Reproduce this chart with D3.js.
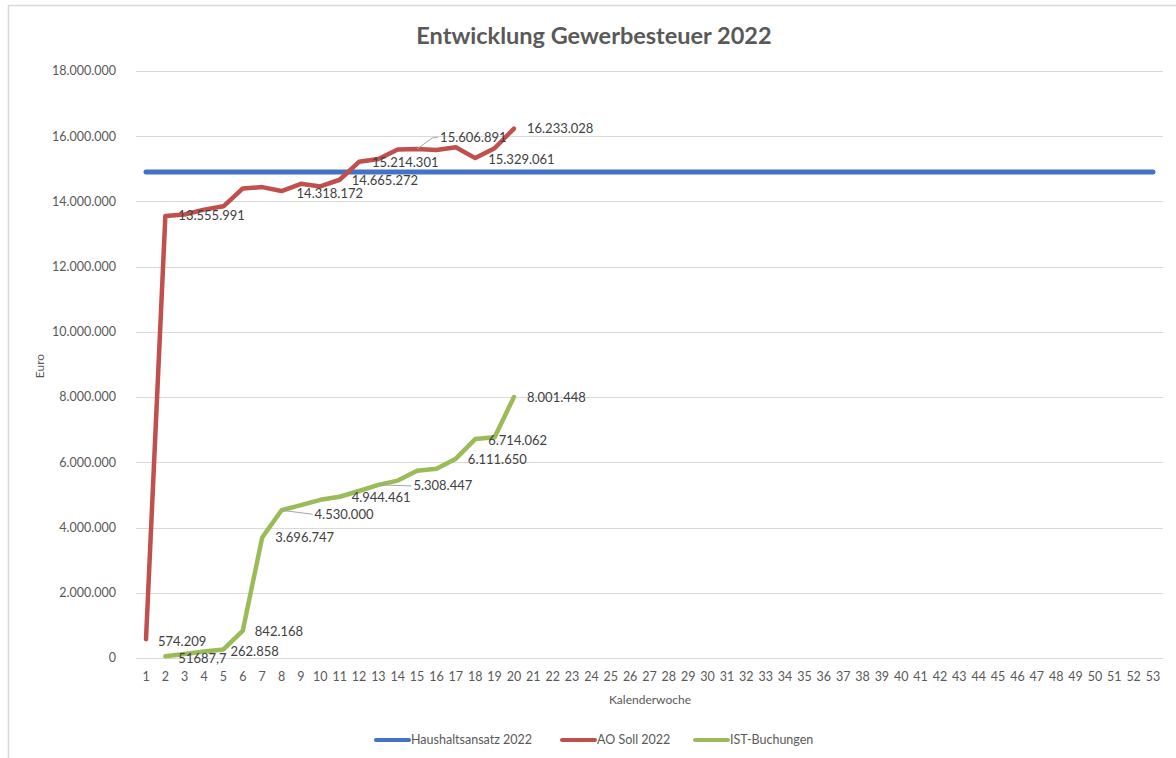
<!DOCTYPE html>
<html>
<head>
<meta charset="utf-8">
<script src="https://cdn.jsdelivr.net/npm/d3@7"></script>
<style>
  body { margin: 0; background: #fff; }
  svg text { font-family: Lato, "Open Sans", sans-serif; }
</style>
</head>
<body>
<svg id="chart-svg"></svg>
<script>
const width = 1176
const height = 758

// Kalenderwochen 1..53
const weeks = d3.range(1, 54)
const yTicks = [0, 2000000, 4000000, 6000000, 8000000, 10000000, 12000000, 14000000, 16000000, 18000000]

// Haushaltsansatz 2022 (konstant)
const budget = 14900000

// AO Soll 2022, KW 1..20
const soll = [574209, 13555991, 13600000, 13750000, 13850000, 14400000, 14440000, 14318172, 14540000, 14460000,
  14665272, 15214301, 15300000, 15590000, 15606891, 15580000, 15660000, 15329061, 15630000, 16233028]

// IST-Buchungen, KW 1..20 (KW 1 ohne Wert)
const ist = [null, 51687.7, 120000, 200000, 262858, 842168, 3696747, 4530000, 4690000, 4850000,
  4944461, 5120000, 5308447, 5440000, 5740000, 5800000, 6111650, 6714062, 6770000, 8001448]

const series = ['Haushaltsansatz 2022', 'AO Soll 2022', 'IST-Buchungen']
const colors = ['#4472C4', '#C0504D', '#9BBB59']

// beschriftete Wochen
const sollLabelWeeks = [1, 2, 8, 11, 12, 15, 18, 20]
const istLabelWeeks = [2, 5, 6, 7, 8, 11, 13, 17, 18, 20]

const de = d3.formatLocale({decimal: ',', thousands: '.', grouping: [3], currency: ['', ' €']})
const fmt = de.format(',d')
const labelText = (v) => Number.isInteger(v) ? fmt(v) : String(v).replace('.', ',')

// label offsets (dx, dy, leader) per series, same order as the label weeks
const sollLabelPos = [[12, 2], [13, 0], [15, 2], [12, 1], [13, 1], [23, -12, true], [13, 1], [13, 0]]
const istLabelPos = [[13, 2], [7, 2], [12, 1], [13, 0], [33, 4, true], [12, 1], [35, 1, true], [12, 1], [13, 1], [13, 0]]

const svg = d3.select('svg#chart-svg').attr('width', width).attr('height', height)

// chart area border (top + left visible)
svg.append('path')
  .attr('d', 'M8.5,758 V5.5 H1176')
  .attr('fill', 'none')
  .attr('stroke', '#d9d9d9')
  .attr('stroke-width', 1.5)

const x = d3.scalePoint().domain(weeks).range([146, 1153])
const y = d3.scaleLinear().domain([0, 18000000]).range([658, 71])
const plotLeft = 136
const plotRight = 1163

// gridlines
svg.append('g').selectAll('line').data(yTicks).enter().append('line')
  .attr('x1', plotLeft).attr('x2', plotRight)
  .attr('y1', (d) => Math.round(y(d)) + 0.5).attr('y2', (d) => Math.round(y(d)) + 0.5)
  .attr('stroke', '#d9d9d9').attr('stroke-width', 1)

// y axis labels
svg.append('g').selectAll('text').data(yTicks).enter().append('text')
  .attr('x', 116).attr('y', (d) => y(d))
  .attr('dy', '0.35em').attr('text-anchor', 'end')
  .attr('font-size', 12.5).attr('fill', '#595959')
  .text((d) => fmt(d))

// x axis labels
svg.append('g').selectAll('text').data(weeks).enter().append('text')
  .attr('x', (d) => x(d)).attr('y', 677)
  .attr('dy', '0.35em').attr('text-anchor', 'middle')
  .attr('font-size', 12.5).attr('fill', '#595959')
  .text((d) => d)

// axis titles
svg.append('text')
  .attr('transform', 'translate(40,366) rotate(-90)')
  .attr('text-anchor', 'middle').attr('dy', '0.35em')
  .attr('font-size', 12).attr('fill', '#595959')
  .text('Euro')

svg.append('text')
  .attr('x', 650).attr('y', 700).attr('dy', '0.35em')
  .attr('text-anchor', 'middle')
  .attr('font-size', 12).attr('fill', '#595959')
  .text('Kalenderwoche')

// title
svg.append('text')
  .attr('x', 594).attr('y', 36).attr('dy', '0.35em')
  .attr('text-anchor', 'middle')
  .attr('font-size', 23.5).attr('font-weight', 'bold').attr('fill', '#595959')
  .text('Entwicklung Gewerbesteuer 2022')

// lines
const line = d3.line()
  .defined((d) => d.v !== null)
  .x((d) => x(d.w))
  .y((d) => y(d.v))

const budgetData = weeks.map((w) => ({w: w, v: budget}))
const sollData = soll.map((v, i) => ({w: i + 1, v: v}))
const istData = ist.map((v, i) => ({w: i + 1, v: v}))

svg.append('path').datum(budgetData).attr('d', line)
  .attr('fill', 'none').attr('stroke', colors[0]).attr('stroke-width', 5)
  .attr('stroke-linecap', 'round')

svg.append('path').datum(sollData).attr('d', line)
  .attr('fill', 'none').attr('stroke', colors[1]).attr('stroke-width', 4.5)
  .attr('stroke-linejoin', 'round').attr('stroke-linecap', 'round')

svg.append('path').datum(istData).attr('d', line)
  .attr('fill', 'none').attr('stroke', colors[2]).attr('stroke-width', 4.5)
  .attr('stroke-linejoin', 'round').attr('stroke-linecap', 'round')

// data labels
function addLabels(data, labelWeeks, pos) {
  const g = svg.append('g')
  labelWeeks.forEach((w, i) => {
    const d = data.find((e) => e.w === w)
    const px = x(w)
    const py = y(d.v)
    const [dx, dy, leader] = pos[i]
    if (leader) {
      g.append('path')
        .attr('d', dy < -5
          ? `M${px},${py} L${px + dx - 8},${py + dy + 1} L${px + dx - 2},${py + dy}`
          : `M${px},${py} L${px + dx - 2},${py + dy}`)
        .attr('fill', 'none').attr('stroke', '#a6a6a6').attr('stroke-width', 1)
    }
    g.append('text')
      .attr('x', px + dx).attr('y', py + dy).attr('dy', '0.35em')
      .attr('font-size', 13).attr('fill', '#404040')
      .text(labelText(d.v))
  })
}
addLabels(sollData, sollLabelWeeks, sollLabelPos)
addLabels(istData, istLabelWeeks, istLabelPos)

// legend
const legendX = [376, 562, 695]
const legend = svg.append('g').selectAll('g').data(series).enter().append('g')
  .attr('transform', (d, i) => `translate(${legendX[i]}, 740)`)
legend.append('line')
  .attr('x1', 0).attr('x2', 33).attr('y1', 0).attr('y2', 0)
  .attr('stroke', (d, i) => colors[i]).attr('stroke-width', 4)
  .attr('stroke-linecap', 'round')
legend.append('text')
  .attr('x', 35).attr('y', 0).attr('dy', '0.35em')
  .attr('font-size', 12.5).attr('fill', '#595959')
  .text((d) => d)
</script>
</body>
</html>
